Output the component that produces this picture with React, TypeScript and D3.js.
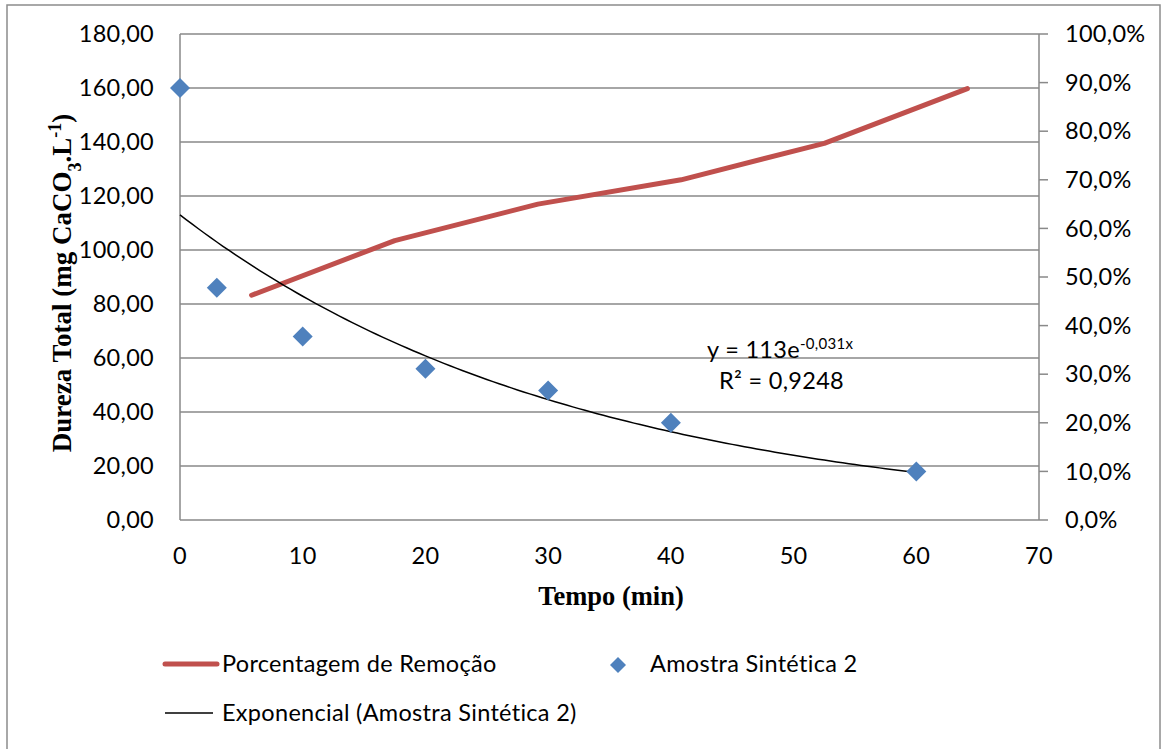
import React from "react";
import * as d3 from "d3";

// Amostra Sintética 2 — hardness over time
const tempo = [0, 3, 10, 20, 30, 40, 60];
const dureza = [160, 86, 68, 56, 48, 36, 18];

// Removal percentage, plotted on the secondary axis over 6 categories
const remocaoCategorias = ["3", "10", "20", "30", "40", "60"];
const remocao = [0.4625, 0.575, 0.65, 0.7, 0.775, 0.8875];

// Exponential fit
const fitA = 113;
const fitB = -0.031;
const fitR2 = "0,9248";

const xTicks = [0, 10, 20, 30, 40, 50, 60, 70];
const yTicks = [0, 20, 40, 60, 80, 100, 120, 140, 160, 180];
const y2Ticks = [0, 0.1, 0.2, 0.3, 0.4, 0.5, 0.6, 0.7, 0.8, 0.9, 1.0];

const W = 1162;
const H = 749;
const left = 180;
const right = 1039;
const top = 34;
const bottom = 520;

const FONT = "Lato, 'Open Sans', sans-serif";
const FS = 23.5;
const LS = 0.3;
const SERIF = "'Liberation Serif', 'DejaVu Serif', serif";
const GRID = "#898989";
const RED = "#C0504D";
const BLUE = "#4F81BD";

const fmt2 = (v: number) => v.toFixed(2).replace(".", ",");
const fmtPct = (v: number) => (v * 100).toFixed(1).replace(".", ",") + "%";

export default function App() {
  const x = d3.scaleLinear().domain([0, 70]).range([left, right]);
  const y = d3.scaleLinear().domain([0, 180]).range([bottom, top]);
  const y2 = d3.scaleLinear().domain([0, 1]).range([bottom, top]);
  const xCat = d3.scaleBand().domain(remocaoCategorias).range([left, right]);

  const redLine = d3
    .line<number>()
    .x((_, i) => (xCat(remocaoCategorias[i]) as number) + xCat.bandwidth() / 2)
    .y((d) => y2(d));

  const fitXs = d3.range(0, 60.0001, 0.5);
  const fitLine = d3
    .line<number>()
    .x((t) => x(t))
    .y((t) => y(fitA * Math.exp(fitB * t)));

  const diamond = (cx: number, cy: number, r: number) =>
    `M${cx},${cy - r}L${cx + r},${cy}L${cx},${cy + r}L${cx - r},${cy}Z`;

  const txt = { fontFamily: FONT, fontSize: FS, letterSpacing: LS, fill: "#000" };

  return (
    <svg width={W} height={H} style={{ position: "absolute", left: 0, top: 0 }}>
      <rect x={0} y={0} width={W} height={H} fill="#fff" />
      <rect x={7} y={5} width={1153} height={760} fill="none" stroke="#8c8c8c" strokeWidth={1.5} />

      {/* horizontal gridlines */}
      {yTicks.map((t) => (
        <line key={t} x1={left} x2={right} y1={y(t)} y2={y(t)} stroke={GRID} strokeWidth={1.5} />
      ))}
      {/* axes */}
      <line x1={left} x2={left} y1={top} y2={bottom} stroke={GRID} strokeWidth={1.5} />
      <line x1={right} x2={right} y1={top} y2={bottom} stroke={GRID} strokeWidth={1.5} />
      {y2Ticks.map((t) => (
        <line key={t} x1={right} x2={right + 9} y1={y2(t)} y2={y2(t)} stroke={GRID} strokeWidth={1.5} />
      ))}

      {/* tick labels */}
      {yTicks.map((t) => (
        <text key={t} x={154} y={y(t)} dy="0.35em" textAnchor="end" {...txt}>
          {fmt2(t)}
        </text>
      ))}
      {xTicks.map((t) => (
        <text key={t} x={x(t)} y={556} dy="0.35em" textAnchor="middle" {...txt}>
          {t}
        </text>
      ))}
      {y2Ticks.map((t) => (
        <text key={t} x={1065} y={y2(t)} dy="0.35em" textAnchor="start" {...txt}>
          {fmtPct(t)}
        </text>
      ))}

      {/* axis titles */}
      <text x={611} y={605} textAnchor="middle" fontFamily={SERIF} fontWeight="bold" fontSize={26.5} fill="#000">
        Tempo (min)
      </text>
      <text
        transform={`translate(71,${283}) rotate(-90)`}
        textAnchor="middle"
        fontFamily={SERIF}
        fontWeight="bold"
        fontSize={27}
        fill="#000"
      >
        Dureza Total (mg CaCO
        <tspan baselineShift="sub" fontSize={18}>3</tspan>
        .L
        <tspan baselineShift="super" fontSize={18}>-1</tspan>)
      </text>

      {/* removal line */}
      <path d={redLine(remocao) || ""} fill="none" stroke={RED} strokeWidth={5} strokeLinecap="round" strokeLinejoin="round" />

      {/* exponential fit */}
      <path d={fitLine(fitXs) || ""} fill="none" stroke="#000" strokeWidth={1.5} />

      {/* samples */}
      {tempo.map((t, i) => (
        <path key={t} d={diamond(x(t), y(dureza[i]), 10)} fill={BLUE} />
      ))}

      {/* fit equation */}
      <text x={707} y={358} {...txt}>
        y = {fitA}e
        <tspan baselineShift="super" fontSize={15}>{String(fitB).replace(".", ",")}x</tspan>
      </text>
      <text x={719} y={389} {...txt}>
        R² = {fitR2}
      </text>

      {/* legend */}
      <line x1={165} x2={217} y1={664} y2={664} stroke={RED} strokeWidth={5} strokeLinecap="round" />
      <text x={222} y={664} dy="0.35em" {...txt}>
        Porcentagem de Remoção
      </text>
      <path d={diamond(618, 665, 8)} fill={BLUE} />
      <text x={650} y={664} dy="0.35em" {...txt}>
        Amostra Sintética 2
      </text>
      <line x1={165} x2={213} y1={713} y2={713} stroke="#000" strokeWidth={1.5} />
      <text x={222} y={713} dy="0.35em" {...txt}>
        Exponencial (Amostra Sintética 2)
      </text>
    </svg>
  );
}
